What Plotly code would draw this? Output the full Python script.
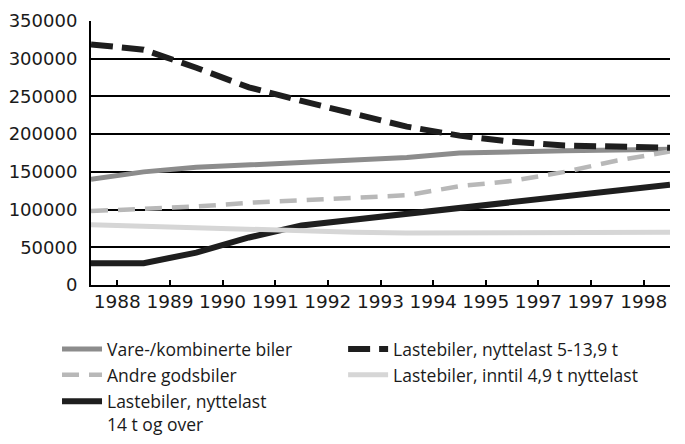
import numpy as np
import plotly.graph_objects as go

# Category (tick) labels as printed on the chart (note: "1997" appears twice)
tick_labels = ["1988", "1989", "1990", "1991", "1992", "1993", "1994", "1995", "1997", "1997", "1998"]

# Values read at the 12 category boundaries (line spans the full axis width)
vare_kombinerte = [140000, 150000, 156000, 159000, 162000, 165000, 169000, 175000, 177000, 178000, 179000, 180000]
nyttelast_5_13 = [319000, 312000, 288000, 262000, 244000, 227000, 210000, 198000, 190000, 185000, 184000, 182000]
andre_godsbiler = [98000, 101000, 104000, 109000, 112000, 115500, 119000, 131000, 138000, 150000, 165000, 177000]
inntil_4_9 = [80000, 78000, 76000, 74000, 71000, 70000, 69000, 69000, 69000, 69000, 69000, 70000]
nyttelast_14 = [29000, 29000, 43000, 63000, 79000, 87000, 94000, 101000, 109000, 117000, 125000, 133000]

n_cat = len(tick_labels)
x_cat = np.arange(n_cat)
x_bound = np.arange(n_cat + 1) - 0.5

FONT = "Open Sans"
TICKFONT = "DejaVu Sans"

fig = go.Figure()

series = [
    ("Vare-/kombinerte biler", vare_kombinerte, "#8c8c8c", 5, "solid", "legend"),
    ("Andre godsbiler", andre_godsbiler, "#b8b8b8", 4.5, "17px,10px", "legend"),
    ("Lastebiler, nyttelast<br>14 t og over", nyttelast_14, "#1e1e1e", 6, "solid", "legend3"),
    ("Lastebiler, nyttelast 5-13,9 t", nyttelast_5_13, "#1e1e1e", 6, "22px,9px", "legend2"),
    ("Lastebiler, inntil 4,9 t nyttelast", inntil_4_9, "#d6d6d6", 5, "solid", "legend2"),
]

for name, vals, color, width, dash, leg in series:
    fig.add_trace(go.Scatter(
        x=x_bound, y=vals, mode="lines", name=name, legend=leg,
        line=dict(color=color, width=width, dash=dash),
        hoverinfo="skip",
    ))

legend_common = dict(
    orientation="v", yanchor="top", xanchor="left",
    xref="container", yref="container", valign="top",
    font=dict(family=FONT, size=17.5, color="#1a1a1a"),
    itemwidth=40, tracegroupgap=0, bgcolor="rgba(0,0,0,0)",
)

# The page body adds an 8px offset, so the figure is sized 8px smaller
fig.update_layout(
    width=677, height=436,
    margin=dict(l=83, r=15, t=13, b=159, autoexpand=False),
    paper_bgcolor="white", plot_bgcolor="white",
    font=dict(family=FONT, size=18, color="#1a1a1a"),
    showlegend=True,
    legend=dict(x=0.0724, y=0.259, **legend_common),
    legend2=dict(x=0.495, y=0.259, **legend_common),
    legend3=dict(x=0.0724, y=0.139, **legend_common),
)

fig.update_xaxes(
    range=[-0.5, n_cat - 0.5],
    tickmode="array", tickvals=x_cat, ticktext=tick_labels,
    showline=True, linecolor="black", linewidth=2,
    ticks="inside", ticklen=5, tickwidth=2, tickcolor="black",
    showgrid=False, zeroline=False, ticklabelstandoff=-1,
    tickfont=dict(family=TICKFONT, size=18.5, color="#1a1a1a"),
)
fig.update_yaxes(
    range=[0, 350000], dtick=50000, tick0=0, tickformat="d",
    showline=True, linecolor="black", linewidth=2,
    showgrid=True, gridcolor="black", gridwidth=2,
    zeroline=False, ticks="", ticklabelstandoff=8,
    tickfont=dict(family=TICKFONT, size=18, color="#1a1a1a"),
)

fig.write_html("out.html")
